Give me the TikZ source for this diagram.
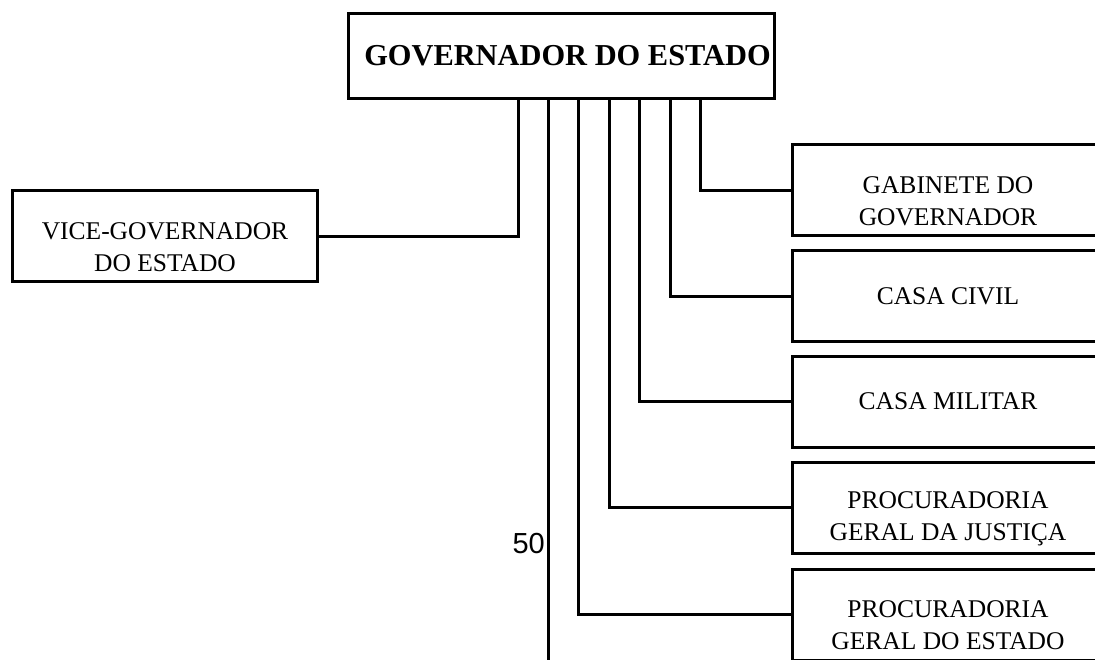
\documentclass[tikz,border=0pt]{standalone}
\usepackage{fontspec}
\setmainfont{Liberation Serif}
\newfontfamily\labelfont{Liberation Sans}
\newcommand{\padtop}{\rule{0pt}{39pt}}
\begin{document}
\begin{tikzpicture}[x=1pt,y=-1pt,
	box/.style={draw=black,line width=3pt,align=center,inner sep=0pt,font=\fontsize{25.5}{32}\selectfont},
	unit/.style={box,minimum width=312pt,minimum height=91pt},
	link/.style={draw=black,line width=3pt}]
	\clip (0,0) rectangle (1095,659);
	% Boxes
	\node[box,minimum width=426pt,minimum height=85pt,font=\bfseries\fontsize{30.4}{34}\selectfont] (gov) at (561,56) {\hspace*{13pt}GOVERNADOR DO ESTADO};
	\node[box,minimum width=305pt,minimum height=91pt] (vice) at (165,236) {\padtop VICE-GOVERNADOR\\DO ESTADO};
	\node[unit] (gab) at (948,190) {\padtop GABINETE DO\\GOVERNADOR};
	\node[unit] (civil) at (948,296) {CASA CIVIL};
	\node[unit] (militar) at (948,401.5) {CASA MILITAR};
	\node[unit] (pgj) at (948,507.5) {\padtop PROCURADORIA\\GERAL DA JUSTI\c{C}A};
	\node[unit] (pge) at (948,614.5) {\padtop PROCURADORIA\\GERAL DO ESTADO};
	%Links
	\coordinate (d1) at (518,98);
	\coordinate (d2) at (548,98);
	\coordinate (d3) at (578,98);
	\coordinate (d4) at (609,98);
	\coordinate (d5) at (639,98);
	\coordinate (d6) at (670,98);
	\coordinate (d7) at (700,98);
	\coordinate (bot) at (548,662);
	\draw [link] (d1) |- (vice.east);
	\draw [link] (d2) -- (bot);
	\draw [link] (d3) |- (pge.west);
	\draw [link] (d4) |- (pgj.west);
	\draw [link] (d5) |- (militar.west);
	\draw [link] (d6) |- (civil.west);
	\draw [link] (d7) |- (gab.west);
	%Labels
	\node[anchor=east,inner sep=1pt,font=\labelfont\fontsize{29}{30}\selectfont] (num) at (546,544) {50};
\end{tikzpicture}
\end{document}
